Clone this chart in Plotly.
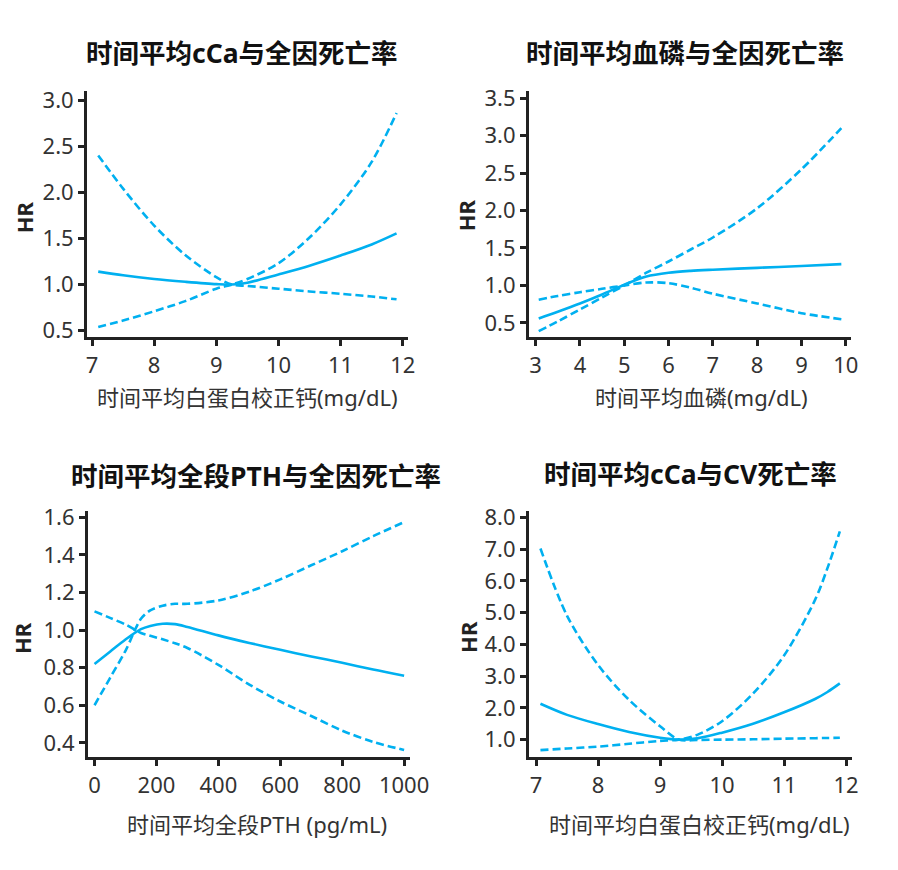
import plotly.graph_objects as go

W, H = 898, 870
COLOR = "#00B0F0"
FONT = "Noto Sans, Noto Sans CJK SC"

# ---- Panel 1: 时间平均cCa与全因死亡率 ----
x1 = [7.1, 7.5, 8.0, 8.5, 9.0, 9.25, 9.5, 10.0, 10.5, 11.0, 11.5, 11.9]
hr1 = [1.14, 1.10, 1.06, 1.03, 1.005, 1.0, 1.02, 1.11, 1.205, 1.315, 1.435, 1.555]
ciA1 = [2.40, 2.04, 1.64, 1.32, 1.08, 1.0, 0.985, 0.955, 0.925, 0.90, 0.87, 0.84]
ciB1 = [0.54, 0.61, 0.71, 0.82, 0.955, 1.0, 1.06, 1.23, 1.51, 1.87, 2.33, 2.86]

# ---- Panel 2: 时间平均血磷与全因死亡率 ----
x2 = [3.07, 3.5, 4.0, 4.5, 5.0, 5.5, 6.0, 6.5, 7.0, 8.0, 9.0, 9.9]
hr2 = [0.56, 0.65, 0.76, 0.88, 1.01, 1.12, 1.17, 1.195, 1.21, 1.235, 1.26, 1.285]
ciA2 = [0.81, 0.86, 0.91, 0.955, 1.0, 1.04, 1.03, 0.97, 0.89, 0.76, 0.63, 0.55]
ciB2 = [0.39, 0.52, 0.68, 0.84, 1.0, 1.17, 1.32, 1.48, 1.64, 2.03, 2.55, 3.10]

# ---- Panel 3: 时间平均全段PTH与全因死亡率 ----
x3 = [0, 50, 100, 150, 180, 220, 260, 300, 400, 500, 600, 700, 800, 900, 1000]
hr3 = [0.82, 0.885, 0.95, 1.005, 1.022, 1.034, 1.032, 1.017, 0.972, 0.932, 0.895, 0.86, 0.826, 0.79, 0.757]
ciA3 = [1.10, 1.065, 1.03, 0.985, 0.97, 0.951, 0.93, 0.905, 0.815, 0.71, 0.62, 0.543, 0.465, 0.405, 0.362]
ciB3 = [0.60, 0.745, 0.89, 1.06, 1.105, 1.13, 1.14, 1.14, 1.158, 1.205, 1.27, 1.345, 1.42, 1.50, 1.575]

# ---- Panel 4: 时间平均cCa与CV死亡率 ----
x4 = [7.07, 7.5, 8.0, 8.5, 9.0, 9.3, 9.6, 10.0, 10.5, 11.0, 11.5, 11.7, 11.9]
hr4 = [2.13, 1.78, 1.49, 1.24, 1.06, 1.0, 1.04, 1.22, 1.50, 1.86, 2.28, 2.50, 2.77]
ciA4 = [7.02, 4.9, 3.35, 2.25, 1.42, 1.0, 0.99, 1.0, 1.01, 1.03, 1.045, 1.052, 1.06]
ciB4 = [0.67, 0.72, 0.78, 0.87, 0.96, 1.0, 1.15, 1.58, 2.45, 3.65, 5.4, 6.4, 7.56]

titles = ["时间平均cCa与全因死亡率", "时间平均血磷与全因死亡率",
          "时间平均全段PTH与全因死亡率", "时间平均cCa与CV死亡率"]
xlabels = ["时间平均白蛋白校正钙(mg/dL)", "时间平均血磷(mg/dL)",
           "时间平均全段PTH (pg/mL)", "时间平均白蛋白校正钙(mg/dL)"]
ylabel = "HR"

panels = [
    dict(x=x1, hr=hr1, a=ciA1, b=ciB1,
         xr=[6.92, 12.08], yr=[0.426, 3.095],
         xt=[7, 8, 9, 10, 11, 12], yt=[0.5, 1.0, 1.5, 2.0, 2.5, 3.0], yfmt=".1f",
         px=(88, 416), py=(83, 334)),
    dict(x=x2, hr=hr2, a=ciA2, b=ciB2,
         xr=[2.85, 10.11], yr=[0.306, 3.59],
         xt=[3, 4, 5, 6, 7, 8, 9, 10], yt=[0.5, 1.0, 1.5, 2.0, 2.5, 3.0, 3.5], yfmt=".1f",
         px=(540, 869), py=(83, 334)),
    dict(x=x3, hr=hr3, a=ciA3, b=ciB3,
         xr=[-21, 1018], yr=[0.324, 1.634],
         xt=[0, 200, 400, 600, 800, 1000], yt=[0.4, 0.6, 0.8, 1.0, 1.2, 1.4, 1.6], yfmt=".1f",
         px=(89, 418), py=(511, 762)),
    dict(x=x4, hr=hr4, a=ciA4, b=ciB4,
         xr=[6.885, 12.09], yr=[0.449, 8.2],
         xt=[7, 8, 9, 10, 11, 12], yt=[1, 2, 3, 4, 5, 6, 7, 8], yfmt=".1f",
         px=(540, 870), py=(511, 762)),
]

title_pos = [(246, 44), (700, 44), (261, 475), (705, 473)]
xlabel_pos = [(252, 395), (716, 395), (262, 830), (714, 830)]
ylabel_pos = [(23, 211), (476, 209), (22, 641), (477, 639)]

fig = go.Figure()
layout = dict(
    width=W, height=H,
    margin=dict(l=0, r=0, t=0, b=0),
    paper_bgcolor="white", plot_bgcolor="white",
    showlegend=False,
    font=dict(family=FONT, color="#222"),
)
annotations = []

for i, p in enumerate(panels):
    n = i + 1
    xa = "x" if n == 1 else f"x{n}"
    ya = "y" if n == 1 else f"y{n}"
    for ys, dash in [(p["a"], "8px,4px"), (p["b"], "8px,4px"), (p["hr"], "solid")]:
        fig.add_trace(go.Scatter(
            x=p["x"], y=ys, mode="lines", xaxis=xa, yaxis=ya,
            line=dict(color=COLOR, width=2.6, dash=dash, shape="spline", smoothing=0.9),
            hoverinfo="skip",
        ))
    common = dict(showline=True, linewidth=3, linecolor="#222", ticks="outside",
                  ticklen=6, tickwidth=3, tickcolor="#222", showgrid=False,
                  zeroline=False, tickfont=dict(size=22, color="#333", family=FONT))
    layout["xaxis" if n == 1 else f"xaxis{n}"] = dict(
        domain=[p["px"][0] / W, p["px"][1] / W], range=p["xr"],
        tickvals=p["xt"], anchor=ya, **common)
    layout["yaxis" if n == 1 else f"yaxis{n}"] = dict(
        domain=[1 - p["py"][1] / H, 1 - p["py"][0] / H], range=p["yr"],
        tickvals=p["yt"], tickformat=p["yfmt"], anchor=xa, **common)

    tx, ty = title_pos[i]
    annotations.append(dict(text=f"<b>{titles[i]}</b>", x=tx / W, y=1 - ty / H,
                            xref="paper", yref="paper", xanchor="center", yanchor="middle",
                            showarrow=False, font=dict(size=26.5, color="#111", family=FONT)))
    lx, ly = xlabel_pos[i]
    annotations.append(dict(text=xlabels[i], x=lx / W, y=1 - ly / H,
                            xref="paper", yref="paper", xanchor="center", yanchor="middle",
                            showarrow=False, font=dict(size=22, color="#333", family=FONT)))
    hx, hy = ylabel_pos[i]
    annotations.append(dict(text=f"<b>{ylabel}</b>", x=hx / W, y=1 - hy / H,
                            xref="paper", yref="paper", xanchor="center", yanchor="middle",
                            textangle=-90, showarrow=False,
                            font=dict(size=22, color="#222", family=FONT)))

layout["annotations"] = annotations
fig.update_layout(**layout)
fig.write_html("out.html")
